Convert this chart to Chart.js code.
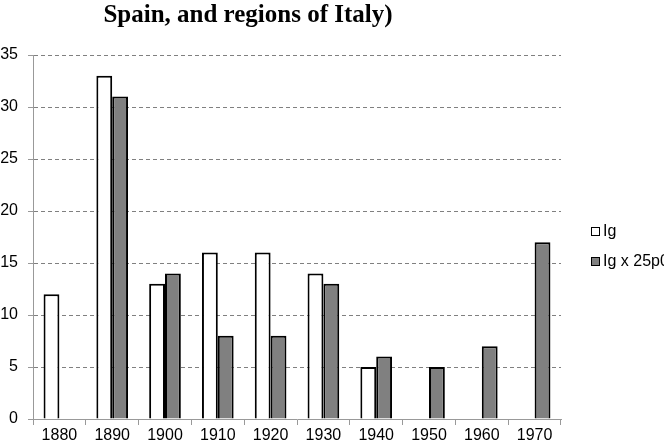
<!DOCTYPE html>
<html>
<head>
<meta charset="utf-8">
<script src="https://cdn.jsdelivr.net/npm/chart.js@4"></script>
<style>
  html, body { margin: 0; padding: 0; background: #fff; overflow: hidden; }
  #wrap { position: relative; width: 664px; height: 446px; }
  #legend { position: absolute; left: 591px; top: 221px; font-family: 'Liberation Sans', Arial, sans-serif; font-size: 16px; color: #000; white-space: nowrap; }
  .item { display: flex; align-items: center; height: 20px; margin-bottom: 10px; }
  .box { width: 7px; height: 7px; border: 1.5px solid #000; margin-right: 3px; }
</style>
</head>
<body>
<div id="wrap">
  <canvas id="chart" width="664" height="446"></canvas>
  <div id="legend"></div>
</div>
<script>
const years = ['1880', '1890', '1900', '1910', '1920', '1930', '1940', '1950', '1960', '1970'];
const ig = [12, 33, 13, 16, 16, 14, 5, null, null, null];
const ig25 = [null, 31, 14, 8, 8, 13, 6, 5, 7, 17];
const seriesNames = ['Ig', 'Ig x 25p0'];
const seriesColors = ['#ffffff', '#808080'];
const titleText = 'Spain, and regions of Italy)';

const titlePlugin = {
    id: 'topTitle',
    afterDraw(chart) {
        const ctx = chart.ctx;
        ctx.save();
        ctx.font = 'bold 25px "Liberation Serif", "Times New Roman", serif';
        ctx.fillStyle = '#000';
        ctx.textAlign = 'center';
        ctx.textBaseline = 'top';
        ctx.fillText(titleText, 248, 3);
        ctx.restore();
    }
};

const ctx = document.getElementById('chart').getContext('2d');
const chart = new Chart(ctx, {
    type: 'bar',
    data: {
        labels: years,
        datasets: [
            { label: seriesNames[0], data: ig, backgroundColor: seriesColors[0], borderColor: '#000', borderWidth: 2 },
            { label: seriesNames[1], data: ig25, backgroundColor: seriesColors[1], borderColor: '#000', borderWidth: 2 }
        ]
    },
    options: {
        responsive: false,
        animation: false,
        layout: { padding: { top: 55, right: 103, left: 0, bottom: 0 } },
        datasets: { bar: { categoryPercentage: 0.6, barPercentage: 1.0 } },
        plugins: {
            legend: { display: false },
            title: { display: false },
            tooltip: { enabled: false }
        },
        scales: {
            x: {
                afterFit: (s) => { s.height = 27; },
                grid: { drawOnChartArea: false, tickLength: 6, color: '#999', offset: true },
                border: { color: '#999' },
                ticks: { color: '#000', font: { family: 'Liberation Sans', size: 16 }, padding: 1, maxRotation: 0 }
            },
            y: {
                min: 0,
                max: 35,
                afterFit: (s) => { s.width = 33; },
                grid: { color: '#808080', tickLength: 5, tickColor: '#999', tickBorderDash: [] },
                border: { color: '#999', dash: [4, 3] },
                ticks: { stepSize: 5, color: '#000', font: { family: 'Liberation Sans', size: 16 }, padding: 10 }
            }
        }
    },
    plugins: [titlePlugin]
});

const legend = document.getElementById('legend');
seriesNames.forEach((name, i) => {
    const row = document.createElement('div');
    row.className = 'item';
    const box = document.createElement('span');
    box.className = 'box';
    box.style.background = seriesColors[i];
    const label = document.createElement('span');
    label.textContent = name;
    row.appendChild(box);
    row.appendChild(label);
    legend.appendChild(row);
});
</script>
</body>
</html>
